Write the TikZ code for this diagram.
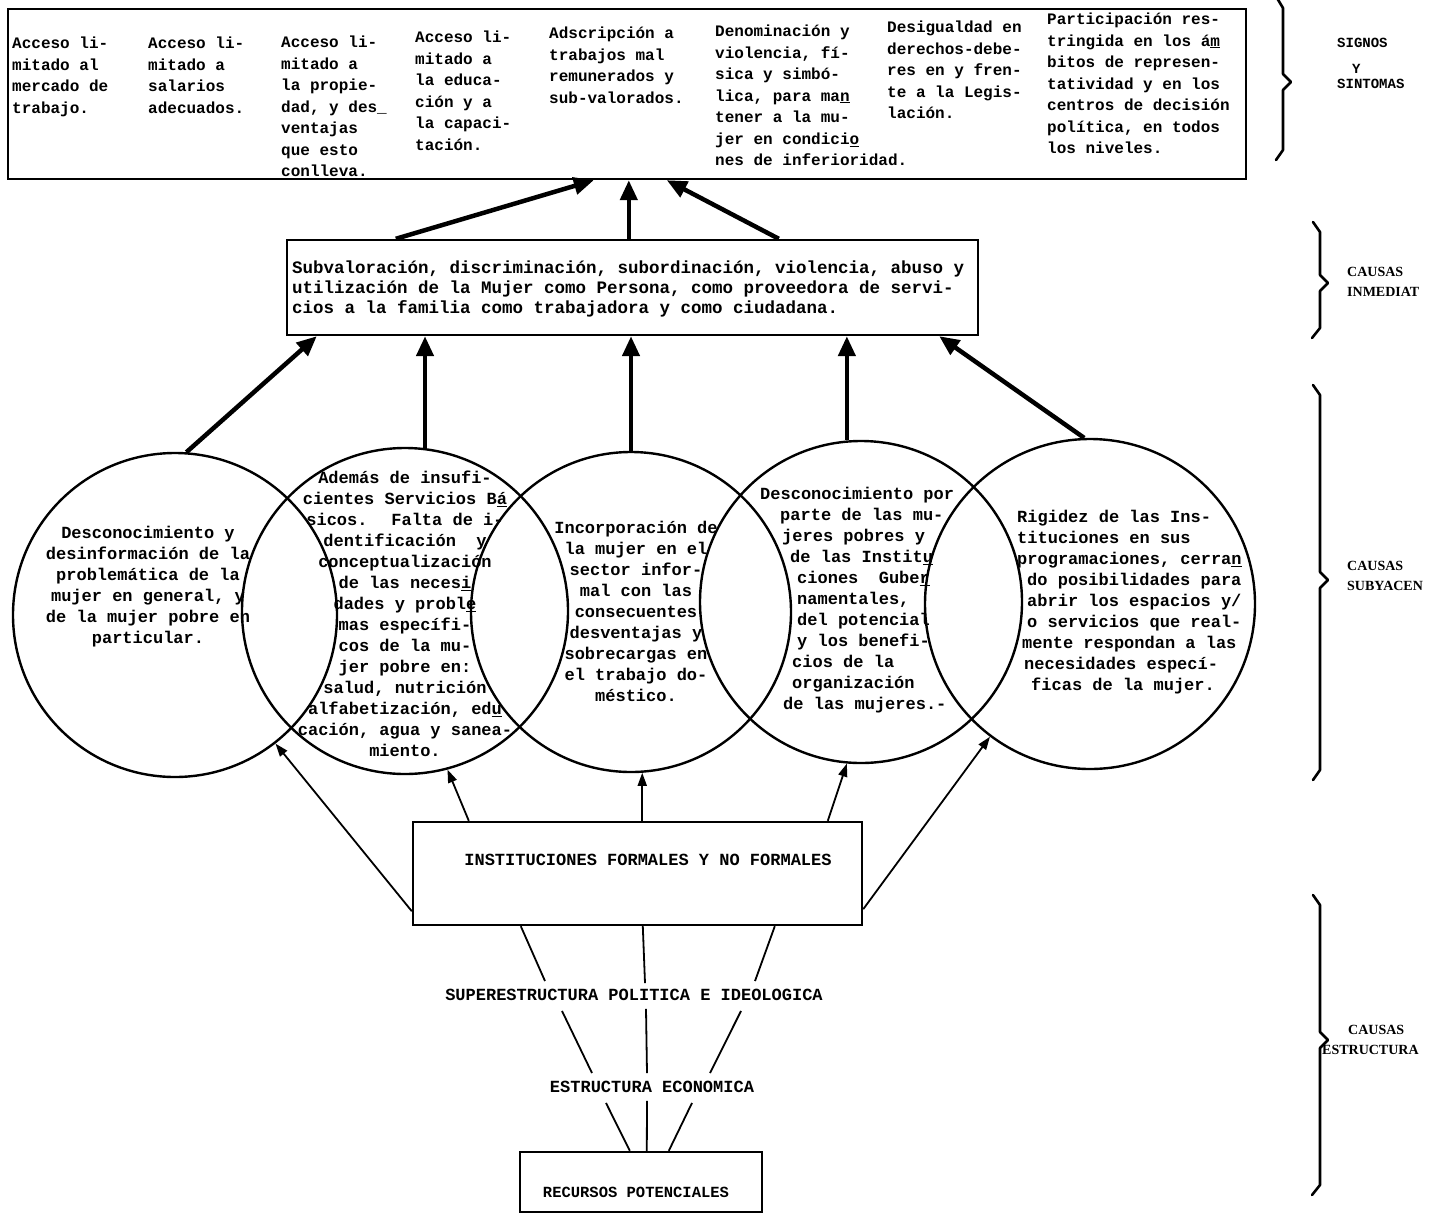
\documentclass[tikz,border=0pt]{standalone}
\usepackage{fontspec}
\newfontfamily\tw{Liberation Mono}
\newfontfamily\lab{Liberation Serif}
\usetikzlibrary{arrows.meta,calc}
\begin{document}
\begin{tikzpicture}[x=1pt,y=-1pt,
  box/.style={draw,line width=2.4pt,inner sep=0pt},
  circ/.style={draw,circle,line width=2.4pt,inner sep=0pt},
  bigarrow/.style={line width=4.5pt,-{Triangle[length=20pt,width=17pt]}},
  thinarrow/.style={line width=1.8pt,-{Triangle[length=13pt,width=9pt]}},
  plainline/.style={line width=1.8pt},
  bracepath/.style={line width=2.6pt,line join=round,line cap=round},
  toptext/.style={anchor=north west,inner sep=0pt,align=left,font={\tw\bfseries\fontsize{16}{21.5}\selectfont}},
  circtext/.style={inner sep=0pt,font={\tw\bfseries\fontsize{17}{21}\selectfont}},
  bottext/.style={inner sep=0pt,font={\tw\bfseries\fontsize{17}{20}\selectfont}},
  twlab/.style={anchor=west,inner sep=0pt,font={\tw\bfseries\fontsize{14}{16}\selectfont}},
  sidelab/.style={anchor=west,inner sep=0pt,font={\lab\bfseries\fontsize{14}{18}\selectfont}},
]
\useasboundingbox (0,0) rectangle (1444,1216);
\fill[white] (0,0) rectangle (1444,1216);

% ---------- top box: signos y sintomas
\node[box, minimum width=1238pt, minimum height=170pt] (sym) at (627,94) {};
\node[toptext] (t1) at (12,37) {Acceso li-\\mitado al\\mercado de\\trabajo.};
\node[toptext] (t2) at (148,37) {Acceso li-\\mitado a\\salarios\\adecuados.};
\node[toptext] (t3) at (281,36) {Acceso li-\\mitado a\\la propie-\\dad, y des\_\\ventajas\\que esto\\conlleva.};
\node[toptext] (t4) at (415,31) {Acceso li-\\mitado a\\la educa-\\ción y a\\la capaci-\\tación.};
\node[toptext] (t5) at (549,27) {Adscripción a\\trabajos mal\\remunerados y\\sub-valorados.};
\node[toptext] (t6) at (715,25) {Denominación y\\violencia, fí-\\sica y simbó-\\lica, para ma\underline{n}\\tener a la mu-\\jer en condici\underline{o}\\nes de inferioridad.};
\node[toptext] (t7) at (887,21) {Desigualdad en\\derechos-debe-\\res en y fren-\\te a la Legis-\\lación.};
\node[toptext] (t8) at (1047,13) {Participación res-\\tringida en los á\underline{m}\\bitos de represen-\\tatividad y en los\\centros de decisión\\política, en todos\\los niveles.};

% ---------- middle box: causas inmediatas
\node[box, minimum width=691pt, minimum height=95pt] (mid) at (632.5,287.5) {};
\node[anchor=north west, inner sep=0pt, align=left, font={\tw\bfseries\fontsize{17.5}{20}\selectfont}] (midtxt) at (292,261)
  {Subvaloración, discriminación, subordinación, violencia, abuso y\\utilización de la Mujer como Persona, como proveedora de servi-\\cios a la familia como trabajadora y como ciudadana.};

\draw[bigarrow] ($(mid.north west)+(110,0)$) -- ($(sym.south west)+(587,0)$);
\draw[bigarrow] ($(mid.north west)+(343,0)$) -- ($(sym.south west)+(622,0)$);
\draw[bigarrow] ($(mid.north west)+(493,0)$) -- ($(sym.south west)+(660,0)$);

% ---------- circles: causas subyacentes
\node[circ, minimum size=324pt] (c1) at (175,615) {};
\node[circ, minimum size=326pt] (c2) at (405,611) {};
\node[circ, minimum size=320pt] (c3) at (631,612) {};
\node[circ, minimum size=322pt] (c4) at (861,602) {};
\node[circ, minimum size=330pt] (c5) at (1090,604) {};

\node[circtext, align=center] (c1t) at (148,587) {Desconocimiento y\\desinformación de la\\problemática de la\\mujer en general, y\\de la mujer pobre en\\particular.};
\node[circtext, align=center] (c2t) at (405,614) {Además de insufi-\\cientes Servicios B\underline{á}\\sicos.~ Falta de i-\\dentificación~ y\\conceptualización\\de las neces\underline{i}\\dades y probl\underline{e}\\mas específi-\\cos de la mu-\\jer pobre en:\\salud, nutrición\\alfabetización, ed\underline{u}\\cación, agua y sanea-\\miento.};
\node[circtext, align=center] (c3t) at (636,611) {Incorporación de\\la mujer en el\\sector infor-\\mal con las\\consecuentes\\desventajas y\\sobrecargas en\\el trabajo do-\\méstico.};
\node[circtext, anchor=north west, align=left] (c4t) at (760,487) {Desconocimiento por\\\hspace*{20pt}parte de las mu-\\\hspace*{22pt}jeres pobres y\\\hspace*{30pt}de las Instit\underline{u}\\\hspace*{37pt}ciones~ Gube\underline{r}\\\hspace*{37pt}namentales,\\\hspace*{37pt}del potencial\\\hspace*{37pt}y los benefi-\\\hspace*{32pt}cios de la\\\hspace*{32pt}organización\\\hspace*{23pt}de las mujeres.-};
\node[circtext, anchor=north west, align=left] (c5t) at (1017,510) {Rigidez de las Ins-\\tituciones en sus\\programaciones, cerra\underline{n}\\\hspace*{10pt}do posibilidades para\\\hspace*{10pt}abrir los espacios y/\\\hspace*{10pt}o servicios que real-\\\hspace*{5pt}mente respondan a las\\\hspace*{7pt}necesidades especí-\\\hspace*{14pt}ficas de la mujer.};

\draw[bigarrow] (c1.86) -- ($(mid.south west)+(31,0)$);
\draw[bigarrow] (c2.83) -- (c2.83 |- mid.south);
\draw[bigarrow] (c3.north) -- (c3.north |- mid.south);
\draw[bigarrow] (c4.95) -- (c4.95 |- mid.south);
\draw[bigarrow] (c5.92) -- ($(mid.south east)+(-40,0)$);

% ---------- causas estructurales
\node[box, minimum width=449pt, minimum height=103pt] (inst) at (637.5,873.5) {};
\node[bottext] (insttxt) at (648,860) {INSTITUCIONES FORMALES Y NO FORMALES};

\draw[thinarrow] ($(inst.south west)+(0,-15)$) -- (c1.-52);
\draw[thinarrow] ($(inst.north west)+(57,0)$) -- (c2.-75);
\draw[thinarrow] (c3.-86 |- inst.north) -- (c3.-86);
\draw[thinarrow] ($(inst.north west)+(416,0)$) -- (c4.-95);
\draw[thinarrow] ($(inst.south east)+(0,-17)$) -- (c5.-127);

\node[bottext] (sup) at (634,995) {SUPERESTRUCTURA POLITICA E IDEOLOGICA};
\node[bottext] (est) at (652,1087) {ESTRUCTURA ECONOMICA};
\node[box, minimum width=242pt, minimum height=60pt] (rec) at (641,1182) {};
\node[inner sep=0pt, font={\tw\bfseries\fontsize{15.5}{18}\selectfont}] (rectxt) at (636,1192) {RECURSOS POTENCIALES};

\draw[plainline] ($(inst.south west)+(109,0)$) -- ($(sup.north)+(-89,-8)$);
\draw[plainline] ($(inst.south west)+(231,0)$) -- ($(sup.north)+(11,-6)$);
\draw[plainline] ($(inst.south west)+(363,0)$) -- ($(sup.north)+(121,-8)$);
\draw[plainline] ($(sup.south)+(-72,10)$) -- ($(est.north)+(-60,-8)$);
\draw[plainline] ($(sup.south)+(12,8)$) -- ($(est.north)+(-5,-8)$);
\draw[plainline] ($(sup.south)+(107,10)$) -- ($(est.north)+(58,-8)$);
\draw[plainline] ($(est.south)+(-46,10)$) -- ($(rec.north west)+(111,0)$);
\draw[plainline] ($(est.south)+(-5,8)$) -- ($(rec.north west)+(128,0)$);
\draw[plainline] ($(est.south)+(40,10)$) -- ($(rec.north west)+(150,0)$);

% ---------- braces and side labels
\draw[bracepath] (1277,-2) -- (1283,8) -- (1283,74) -- (1291,82) -- (1283,90) -- (1283,150) -- (1276,160);
\draw[bracepath] (1313,222) -- (1320,232) -- (1320,275) -- (1328,283) -- (1320,291) -- (1320,328) -- (1312,338);
\draw[bracepath] (1313,385) -- (1320,395) -- (1320,572) -- (1328,580) -- (1320,588) -- (1320,770) -- (1313,780);
\draw[bracepath] (1313,895) -- (1320,905) -- (1320,1032) -- (1328,1040) -- (1320,1048) -- (1320,1185) -- (1312,1195);

\node[twlab] (sg1) at (1337,43) {SIGNOS};
\node[twlab] (sg2) at (1352,69) {Y};
\node[twlab] (sg3) at (1337,84) {SINTOMAS};
\node[sidelab] (ci1) at (1347,272) {CAUSAS};
\node[sidelab] (ci2) at (1347,292) {INMEDIAT};
\node[sidelab] (cs1) at (1347,566) {CAUSAS};
\node[sidelab] (cs2) at (1347,586) {SUBYACEN};
\node[sidelab] (ce1) at (1348,1030) {CAUSAS};
\node[sidelab] (ce2) at (1322,1050) {ESTRUCTURA};
\end{tikzpicture}
\end{document}
